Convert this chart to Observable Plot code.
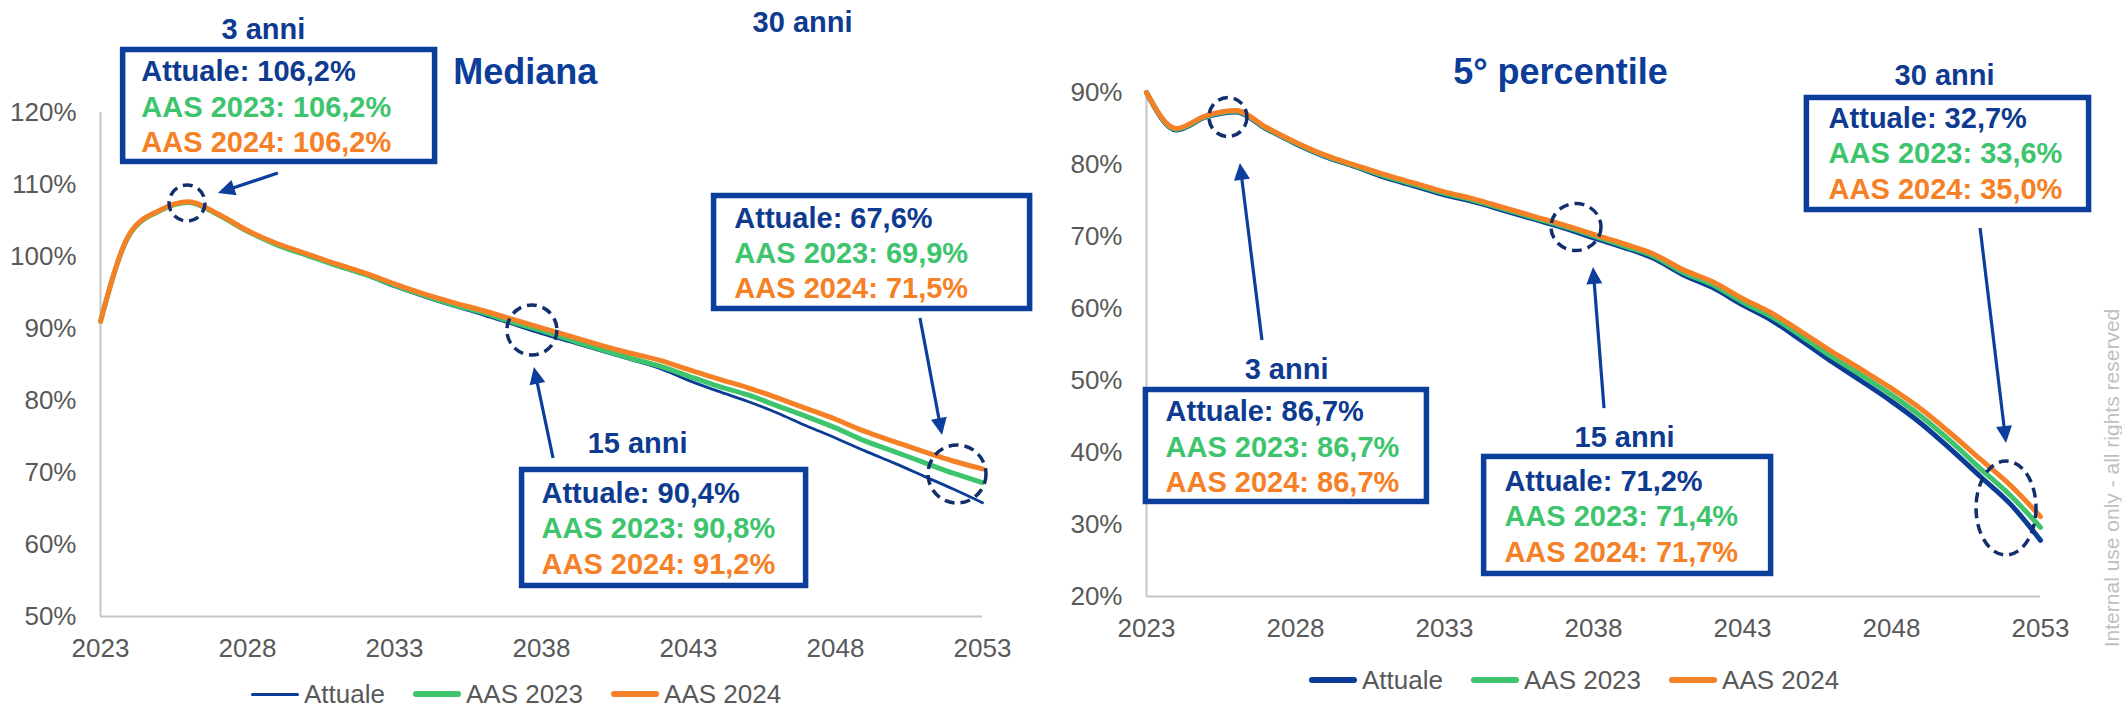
<!DOCTYPE html>
<html>
<head>
<meta charset="utf-8">
<script src="https://cdn.jsdelivr.net/npm/d3@7"></script>
<script src="https://cdn.jsdelivr.net/npm/@observablehq/plot@0.6"></script>
<style>
html,body{margin:0;padding:0;background:#fff;}
#root{position:relative;width:2122px;height:710px;overflow:hidden;font-family:"Liberation Sans",Arial,sans-serif;background:#fff;}
.panel{position:absolute;top:0;width:1061px;}
.legend{position:absolute;display:flex;align-items:center;height:26px;line-height:26px;font-size:26px;color:#595959;white-space:nowrap;}
.legend .item{display:flex;align-items:center;margin-right:28px;}
.legend .sw{display:inline-block;width:48px;border-radius:3px;margin-right:5px;}
.wm{position:absolute;left:2112px;top:478px;transform:translate(-50%,-50%) rotate(-90deg);font-size:21px;color:#c0c0c0;white-space:nowrap;}
</style>
</head>
<body>
<div id="root">
  <div id="left" class="panel" style="left:0"></div>
  <div id="right" class="panel" style="left:1061px"></div>
  <div id="legendLeft" class="legend" style="left:251px;top:681px"></div>
  <div id="legendRight" class="legend" style="left:1309px;top:667px"></div>
  <div class="wm">Internal use only - all rights reserved</div>
</div>
<script>
// ---------- data ----------
const years = [2023,2024,2025,2026,2027,2028,2029,2030,2031,2032,2033,2034,2035,2036,2037,2038,2039,2040,2041,2042,2043,2044,2045,2046,2047,2048,2049,2050,2051,2052,2053];
const xTicks = [2023, 2028, 2033, 2038, 2043, 2048, 2053];
const yTicksMediana = [50, 60, 70, 80, 90, 100, 110, 120];
const yTicksPercentile = [20, 30, 40, 50, 60, 70, 80, 90];
const seriesNames = ["Attuale", "AAS 2023", "AAS 2024"];

const medianaAttuale = [91.0,103.1,106.3,107.5,105.7,103.4,101.6,100.1,98.7,97.4,95.8,94.4,93.1,91.9,90.6,89.3,88.1,86.9,85.7,84.5,82.8,81.3,79.9,78.3,76.5,74.8,73.0,71.3,69.5,67.7,65.8];
const medianaAAS2023 = [91.0,103.1,106.3,107.5,105.8,103.5,101.6,100.2,98.8,97.5,96.0,94.6,93.3,92.2,90.9,89.7,88.4,87.1,85.9,84.8,83.4,82.0,80.8,79.3,77.8,76.2,74.4,72.9,71.4,69.9,68.6];
const medianaAAS2024 = [91.0,103.2,106.4,107.6,105.9,103.6,101.8,100.4,99.0,97.7,96.2,94.8,93.6,92.5,91.3,90.1,88.9,87.7,86.6,85.6,84.3,83.0,81.8,80.4,78.9,77.4,75.7,74.3,72.9,71.6,70.5];

const percentileAttuale = [90.0,84.8,86.6,87.3,85.0,82.9,81.1,79.7,78.2,77.0,75.8,74.8,73.6,72.4,71.2,69.8,68.5,67.0,64.7,62.9,60.5,58.3,55.5,52.6,49.9,47.1,44.0,40.4,36.6,32.8,27.8];
const percentileAAS2023 = [90.0,84.9,86.7,87.4,85.1,83.0,81.2,79.8,78.4,77.2,76.0,75.0,73.8,72.6,71.4,70.1,68.7,67.3,65.0,63.3,60.9,58.8,56.1,53.3,50.7,48.0,45.0,41.5,37.7,34.0,29.6];
const percentileAAS2024 = [90.0,85.0,86.8,87.5,85.2,83.1,81.3,79.9,78.6,77.4,76.2,75.2,74.0,72.8,71.6,70.3,69.0,67.6,65.4,63.7,61.4,59.3,56.7,54.0,51.5,48.9,46.0,42.6,39.0,35.4,31.1];

const horizons = ["3 anni", "15 anni", "30 anni"];
const medianaNoteAttuale = [106.2, 90.4, 67.6];
const medianaNoteAAS2023 = [106.2, 90.8, 69.9];
const medianaNoteAAS2024 = [106.2, 91.2, 71.5];
const percentileNoteAttuale = [86.7, 71.2, 32.7];
const percentileNoteAAS2023 = [86.7, 71.4, 33.6];
const percentileNoteAAS2024 = [86.7, 71.7, 35.0];

// ---------- styles ----------
const BLUE = "#0c3d96", GREEN = "#3ec46d", ORANGE = "#f58025";
const BOX = "#0b3f9b", RING = "#112f6c", TXT = "#0e3b90", TITLE = "#0b3d99";
const FONT = "Liberation Sans, Arial, sans-serif";
const fmt = v => v.toFixed(1).replace(".", ",") + "%";

function annotate(notes) {
  return (index, scales) => {
    const x = scales.x, y = scales.y;
    const g = d3.create("svg:g");
    for (const n of notes) {
      const [cx, cy, rx, ry] = n.ring;
      g.append("ellipse").attr("cx", x(cx)).attr("cy", y(cy)).attr("rx", rx).attr("ry", ry)
        .attr("fill", "none").attr("stroke", RING).attr("stroke-width", 3.5).attr("stroke-dasharray", "10,6");
      const [a1, b1, a2, b2] = n.arrow;
      const X1 = x(a1), Y1 = y(b1), X2 = x(a2), Y2 = y(b2);
      const L = Math.hypot(X2 - X1, Y2 - Y1), ux = (X2 - X1) / L, uy = (Y2 - Y1) / L;
      const head = 17, half = 8;
      const bx = X2 - ux * head, by = Y2 - uy * head;
      g.append("line").attr("x1", X1).attr("y1", Y1).attr("x2", bx + ux * 2).attr("y2", by + uy * 2)
        .attr("stroke", BOX).attr("stroke-width", 3.2);
      g.append("path").attr("d", `M${X2},${Y2}L${bx - uy * half},${by + ux * half}L${bx + uy * half},${by - ux * half}Z`).attr("fill", BOX);
    }
    return g.node();
  };
}

function panel(cfg) {
  const marks = [];
  marks.push(Plot.ruleX([2023], {stroke: "#c6c6c6", strokeWidth: 2}));
  marks.push(Plot.ruleY([cfg.yDomain[0]], {stroke: "#c6c6c6", strokeWidth: 2}));
  cfg.series.forEach(s => {
    marks.push(Plot.line(years.map((year, i) => ({year, value: s.values[i], series: s.name})),
      {x: "year", y: "value", stroke: s.color, strokeWidth: s.width, curve: "monotone-x"}));
  });
  marks.push(annotate(cfg.notes));
  cfg.notes.forEach((n, j) => {
    marks.push(Plot.rect([n.box], {x1: d => d[0], x2: d => d[1], y1: d => d[2], y2: d => d[3], fill: "white", stroke: BOX, strokeWidth: 5.5}));
    marks.push(Plot.text([n], {x: d => d.head[0], y: d => d.head[1], text: () => horizons[j], fontSize: 29, fontWeight: "bold", fill: TXT, textAnchor: "middle", fontFamily: FONT}));
    const cols = [TXT, GREEN, ORANGE];
    cfg.noteValues.forEach((vals, k) => {
      marks.push(Plot.text([n], {x: d => d.tx, y: d => d.ty[k], text: () => seriesNames[k] + ": " + fmt(vals[j]),
        fontSize: 29, fontWeight: "bold", fill: cols[k], textAnchor: "start", fontFamily: FONT}));
    });
  });
  marks.push(Plot.text([cfg.title], {x: d => d.x, y: d => d.y, text: d => d.text, fontSize: 36, fontWeight: "bold", fill: TITLE, textAnchor: cfg.title.anchor, fontFamily: FONT}));

  return Plot.plot({
    width: 1061, height: cfg.height,
    marginLeft: cfg.marginLeft, marginRight: cfg.marginRight, marginTop: cfg.marginTop, marginBottom: cfg.marginBottom,
    x: {domain: [2023, 2053], ticks: xTicks, tickFormat: d => String(d), tickSize: 0, tickPadding: 22, label: null},
    y: {domain: cfg.yDomain, ticks: cfg.yTicks, tickFormat: d => d + "%", tickSize: 0, tickPadding: 24, label: null},
    style: {fontSize: "26px", fontFamily: FONT, color: "#595959", background: "transparent", overflow: "visible", maxWidth: "none"},
    marks
  });
}

const left = panel({
  height: 660, marginLeft: 100, marginRight: 79, marginTop: 112, marginBottom: 44,
  yDomain: [50, 120], yTicks: yTicksMediana,
  series: [
    {name: "Attuale", values: medianaAttuale, color: BLUE, width: 2.8},
    {name: "AAS 2023", values: medianaAAS2023, color: GREEN, width: 5},
    {name: "AAS 2024", values: medianaAAS2024, color: ORANGE, width: 5}
  ],
  title: {x: 2035.0, y: 125.6, text: "Mediana", anchor: "start"},
  noteValues: [medianaNoteAttuale, medianaNoteAAS2023, medianaNoteAAS2024],
  notes: [
    {head: [2028.54, 131.5], box: [2023.77, 2034.38, 128.68, 113.13], tx: 2024.39, ty: [125.6, 120.6, 115.74], arrow: [2029.05, 111.53, 2027.01, 108.75], ring: [2025.96, 107.36, 18, 18]},
    {head: [2041.27, 74.03], box: [2037.34, 2047.0, 70.35, 54.24], tx: 2038.0, ty: [66.99, 62.13, 57.26], arrow: [2038.41, 71.94, 2037.76, 84.58], ring: [2037.69, 89.72, 25, 25]},
    {head: [2046.88, 132.5], box: [2043.87, 2054.62, 108.4, 92.71], tx: 2044.56, ty: [105.18, 100.32, 95.46], arrow: [2050.89, 91.39, 2051.64, 75.14], ring: [2052.15, 69.72, 29, 29]}
  ]
});

const right = panel({
  height: 640, marginLeft: 85, marginRight: 82, marginTop: 92, marginBottom: 44,
  yDomain: [20, 90], yTicks: yTicksPercentile,
  series: [
    {name: "Attuale", values: percentileAttuale, color: BLUE, width: 5},
    {name: "AAS 2023", values: percentileAAS2023, color: GREEN, width: 5},
    {name: "AAS 2024", values: percentileAAS2024, color: ORANGE, width: 5}
  ],
  title: {x: 2036.89, y: 92.85, text: "5° percentile", anchor: "middle"},
  noteValues: [percentileNoteAttuale, percentileNoteAAS2023, percentileNoteAAS2024],
  notes: [
    {head: [2027.70, 51.53], box: [2022.98, 2032.41, 48.68, 33.13], tx: 2023.64, ty: [45.6, 40.6, 35.74], arrow: [2026.89, 55.56, 2026.15, 80.14], ring: [2025.75, 86.53, 19, 19.5]},
    {head: [2039.04, 42.08], box: [2034.33, 2043.96, 39.38, 23.13], tx: 2035.01, ty: [36.01, 31.15, 26.15], arrow: [2038.37, 46.11, 2038.0, 65.69], ring: [2037.43, 71.25, 25, 23.5]},
    {head: [2049.78, 92.36], box: [2045.16, 2054.63, 89.24, 73.68], tx: 2045.89, ty: [86.29, 81.43, 76.43], arrow: [2050.99, 71.11, 2051.86, 41.25], ring: [2051.86, 32.22, 30, 47]}
  ]
});

document.getElementById("left").appendChild(left);
document.getElementById("right").appendChild(right);

function legend(el, widths) {
  const colors = [BLUE, GREEN, ORANGE];
  seriesNames.forEach((name, i) => {
    const item = document.createElement("div");
    item.className = "item";
    const sw = document.createElement("span");
    sw.className = "sw";
    sw.style.background = colors[i];
    sw.style.height = widths[i] + "px";
    item.appendChild(sw);
    const t = document.createElement("span");
    t.textContent = name;
    item.appendChild(t);
    el.appendChild(item);
  });
}
legend(document.getElementById("legendLeft"), [3, 6, 6]);
legend(document.getElementById("legendRight"), [6, 6, 6]);
</script>
</body>
</html>
